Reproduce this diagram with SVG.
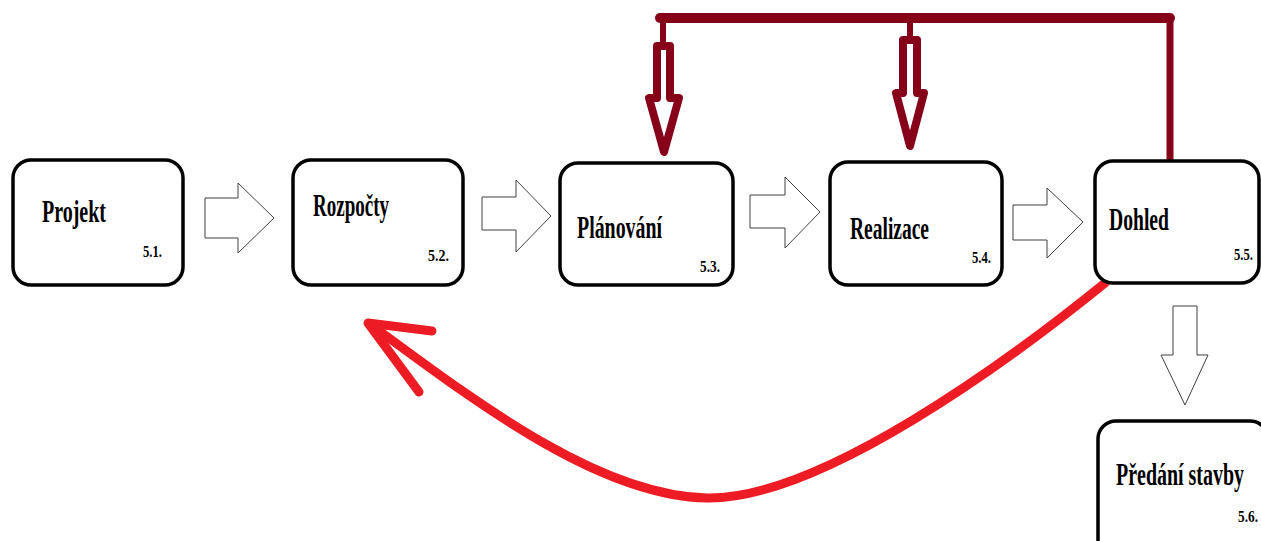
<svg xmlns="http://www.w3.org/2000/svg" width="1261" height="541" viewBox="0 0 1261 541">
  <style>
    .box { fill: #ffffff; stroke: #000000; stroke-width: 3.5; }
    .title { font-family: "Liberation Serif", "Times New Roman", serif; font-weight: bold; font-size: 31px; fill: #000000; }
    .num { font-family: "Liberation Serif", "Times New Roman", serif; font-weight: bold; font-size: 17px; fill: #000000; }
    .flow { fill: #ffffff; stroke: #404040; stroke-width: 1; }
    .feed { fill: none; stroke: #870019; stroke-linejoin: round; stroke-linecap: round; }
    .back { fill: none; stroke: #ed1c24; stroke-width: 9; stroke-linecap: round; stroke-linejoin: round; }
  </style>

  <rect width="1261" height="541" fill="#ffffff"/>

  <!-- connectors -->
  <g id="connectors">
    <!-- hollow flow arrows between stages -->
    <polygon class="flow" points="205,198 238,198 238,183 274,218 238,253 238,238 205,238"/>
    <polygon class="flow" points="482,197 516,197 516,180 551,216 516,252 516,230 482,230"/>
    <polygon class="flow" points="750,195 785,195 785,177 820,212 785,248 785,228 750,228"/>
    <polygon class="flow" points="1013,205 1047,205 1047,188 1083,222 1047,258 1047,240 1013,240"/>
    <polygon class="flow" points="1173,306 1197,306 1197,355 1208,355 1185,405 1161,355 1173,355"/>

    <!-- feedback bus from Dohled to Plánování and Realizace -->
    <line class="feed" x1="660" y1="18" x2="1170" y2="18" stroke-width="10"/>
    <line class="feed" x1="1170" y1="18" x2="1170" y2="162" stroke-width="7" stroke-linecap="butt"/>
    <line class="feed" x1="663" y1="18" x2="663" y2="46" stroke-width="6"/>
    <line class="feed" x1="910" y1="18" x2="910" y2="40" stroke-width="6"/>
    <polygon class="feed" stroke-width="8" points="657,46 670,46 670,98 679,98 664,152 649,98 657,98"/>
    <polygon class="feed" stroke-width="8" points="903,40 917,40 917,93 924,93 910,146 896,93 903,93"/>

    <!-- return loop from Dohled back to Rozpočty -->
    <path class="back" d="M1105,283 C1010,360 820,500 707,498 C600,496 480,405 370,324"/>
    <polyline class="back" points="432,331 368,323 419,392"/>
  </g>

  <g id="projekt">
    <rect class="box" x="13" y="160" width="170" height="125" rx="18"/>
    <text class="title" x="42" y="222" textLength="64" lengthAdjust="spacingAndGlyphs">Projekt</text>
    <text class="num" x="143" y="257" textLength="19" lengthAdjust="spacingAndGlyphs">5.1.</text>
  </g>

  <g id="rozpocty">
    <rect class="box" x="293" y="160" width="170" height="125" rx="18"/>
    <text class="title" x="313" y="216" textLength="76" lengthAdjust="spacingAndGlyphs">Rozpočty</text>
    <text class="num" x="428" y="261" textLength="21" lengthAdjust="spacingAndGlyphs">5.2.</text>
  </g>

  <g id="planovani">
    <rect class="box" x="560" y="163" width="173" height="122" rx="18"/>
    <text class="title" x="577" y="238" textLength="85" lengthAdjust="spacingAndGlyphs">Plánování</text>
    <text class="num" x="700" y="272" textLength="20" lengthAdjust="spacingAndGlyphs">5.3.</text>
  </g>

  <g id="realizace">
    <rect class="box" x="830" y="162" width="172" height="123" rx="18"/>
    <text class="title" x="850" y="239" textLength="79" lengthAdjust="spacingAndGlyphs">Realizace</text>
    <text class="num" x="972" y="263" textLength="19" lengthAdjust="spacingAndGlyphs">5.4.</text>
  </g>

  <g id="dohled">
    <rect class="box" x="1095" y="161" width="164" height="122" rx="18"/>
    <text class="title" x="1109" y="230" textLength="60" lengthAdjust="spacingAndGlyphs">Dohled</text>
    <text class="num" x="1234" y="260" textLength="19" lengthAdjust="spacingAndGlyphs">5.5.</text>
  </g>

  <g id="predani">
    <rect class="box" x="1098" y="421" width="170" height="140" rx="18"/>
    <text class="title" x="1116" y="485" textLength="128" lengthAdjust="spacingAndGlyphs">Předání stavby</text>
    <text class="num" x="1238" y="522" textLength="20" lengthAdjust="spacingAndGlyphs">5.6.</text>
  </g>
</svg>
